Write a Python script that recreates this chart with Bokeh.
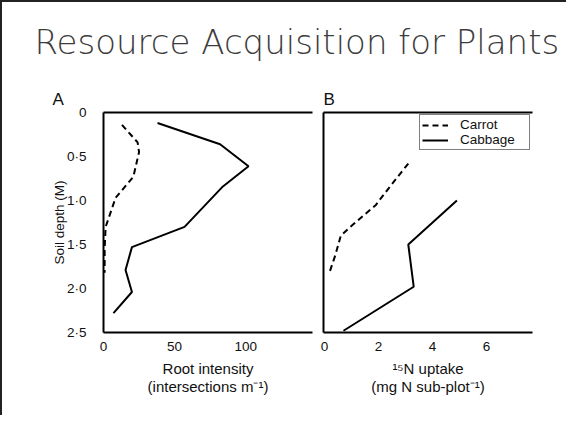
from bokeh.plotting import figure
from bokeh.models import (Range1d, FixedTicker, LinearAxis, Label, Legend, LegendItem, Column, Row, Title)
from bokeh.embed import file_html
from bokeh.resources import INLINE

# ---- data ----
title_text = "Resource Acquisition for Plants"
depth_ticks = [0, 0.5, 1, 1.5, 2, 2.5]
depth_tick_labels = ["0", "0·5", "1·0", "1·5", "2·0", "2·5"]

# Panel A: root intensity (intersections m^-1)
a_cabbage_depth = [0.12, 0.36, 0.61, 0.84, 1.30, 1.53, 1.79, 2.04, 2.28]
a_cabbage_val = [38, 82, 102, 84, 57, 20, 15.5, 20, 7]
a_carrot_depth = [0.14, 0.34, 0.45, 0.73, 0.97, 1.30, 1.55, 1.82]
a_carrot_val = [13, 24, 25, 21, 8.5, 1.5, 0.8, 0.8]
a_ticks = [0, 50, 100]

# Panel B: 15N uptake (mg N sub-plot^-1)
b_carrot_depth = [0.58, 0.85, 1.05, 1.30, 1.40, 1.62, 1.80]
b_carrot_val = [3.1, 2.4, 1.9, 0.95, 0.6, 0.4, 0.2]
b_cabbage_depth = [1.0, 1.5, 1.98, 2.48]
b_cabbage_val = [4.9, 3.1, 3.3, 0.7]
b_ticks = [0, 2, 4, 6]

FONT = "Liberation Sans"
TXT = "#111111"

# ---- header with title ----
head = figure(width=564, height=68, x_range=Range1d(0, 564), y_range=Range1d(0, 68),
              min_border=0, toolbar_location=None, output_backend="svg")
head.axis.visible = False
head.grid.visible = False
head.outline_line_color = None
head.add_layout(Label(x=32, y=29, text=title_text, text_font="'DejaVu Sans Light', 'DejaVu Sans'",
                      text_font_size="34px", text_color="#3c3c3c",
                      text_align="left", text_baseline="middle"))

depth_range = Range1d(2.5, 0)


def style_axis(ax, ticks):
    ax.axis_line_width = 2
    ax.axis_line_color = "black"
    ax.major_tick_line_color = None
    ax.minor_tick_line_color = None
    ax.ticker = FixedTicker(ticks=ticks)
    ax.major_label_text_font = FONT
    ax.major_label_text_font_size = "13.5px"
    ax.major_label_text_color = TXT
    ax.axis_label_text_font = FONT
    ax.axis_label_text_font_style = "normal"
    ax.axis_label_text_color = TXT


def line_axis():
    return LinearAxis(ticker=FixedTicker(ticks=[]), axis_line_width=2, axis_line_color="black",
                      major_tick_line_color=None, minor_tick_line_color=None,
                      major_label_text_font_size="0px", major_label_standoff=0)


def make_panel(width, x_range, left_border, right_border, with_left_axis, letter, offset):
    p = figure(width=width, height=345, x_range=x_range, y_range=depth_range,
               x_axis_location=None, y_axis_location=None,
               min_border_left=left_border, min_border_right=right_border,
               min_border_top=42, min_border_bottom=83,
               toolbar_location=None, output_backend="svg")
    p.grid.visible = False
    p.outline_line_color = None
    p.add_layout(line_axis(), "above")
    if not with_left_axis:
        p.add_layout(line_axis(), "left")
    p.title = Title(text=letter, text_font=FONT, text_font_size="17px", text_font_style="normal",
                    text_color=TXT, align="left", offset=offset, standoff=8)
    return p


# ---- panel A ----
pA = make_panel(315, Range1d(0, 147), 101, 5, True, "A", -51)
pA.line(a_cabbage_val, a_cabbage_depth, line_color="black", line_width=2)
pA.line(a_carrot_val, a_carrot_depth, line_color="black", line_width=2, line_dash="6 4")

xa = LinearAxis()
style_axis(xa, a_ticks)
xa.major_label_standoff = 3
xa.axis_label = "Root intensity\n(intersections m⁻¹)"
xa.axis_label_text_font_size = "15px"
xa.axis_label_text_line_height = 1.1
xa.axis_label_standoff = 6
pA.add_layout(xa, "below")

ya = LinearAxis()
style_axis(ya, depth_ticks)
ya.major_label_overrides = {t: s for t, s in zip(depth_ticks, depth_tick_labels)}
ya.major_label_standoff = 11
ya.axis_label = "Soil depth (M)"
ya.axis_label_text_font_size = "13.5px"
ya.axis_label_standoff = -3
pA.add_layout(ya, "left")

# ---- panel B ----
pB = make_panel(249, Range1d(-0.04, 7.7), 6, 34, False, "B", 0)
rb1 = pB.line(b_carrot_val, b_carrot_depth, line_color="black", line_width=2, line_dash="6 4")
rb2 = pB.line(b_cabbage_val, b_cabbage_depth, line_color="black", line_width=2)

xb = LinearAxis()
style_axis(xb, b_ticks)
xb.major_label_standoff = 3
xb.axis_label = "¹⁵N uptake\n(mg N sub-plot⁻¹)"
xb.axis_label_text_font_size = "15px"
xb.axis_label_text_line_height = 1.1
xb.axis_label_standoff = 6
pB.add_layout(xb, "below")

legend = Legend(items=[LegendItem(label="Carrot", renderers=[rb1]),
                       LegendItem(label="Cabbage", renderers=[rb2])],
                location="top_right", margin=2, padding=2, spacing=-3,
                glyph_width=26, glyph_height=12, label_height=12, label_width=67,
                label_standoff=12,
                label_text_font=FONT, label_text_font_size="13.5px", label_text_color=TXT,
                label_text_line_height=1.0,
                border_line_color="black", border_line_width=1,
                background_fill_alpha=1)
pB.add_layout(legend)

layout = Column(children=[head, Row(children=[pA, pB])],
                styles={"border-top": "2px solid #222", "border-left": "2px solid #222"})

open("out.html", "w").write(file_html(layout, INLINE))
